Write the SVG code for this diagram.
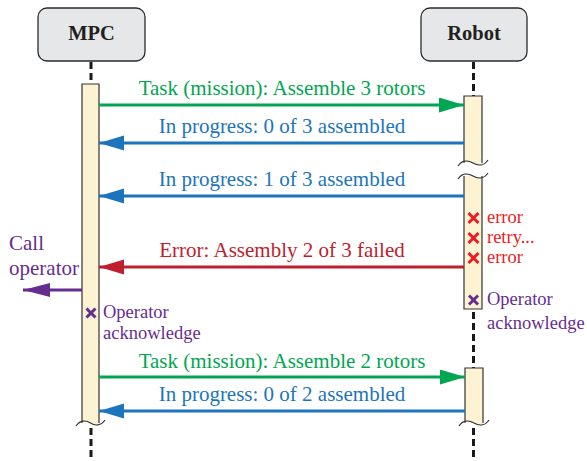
<svg xmlns="http://www.w3.org/2000/svg" width="587" height="461" viewBox="0 0 587 461">
<style>
.actor{fill:#e6e7e9;stroke:#2b2b2b;stroke-width:1.3}
.aname{font-family:"Liberation Serif","Times New Roman",serif;font-weight:bold;font-size:20.5px;fill:#231f20;text-anchor:middle}
.life{stroke:#1a1a1a;stroke-width:3;stroke-dasharray:7 4;fill:none}
.barfill{fill:#fdf2d2;stroke:none}
.baredge{fill:none;stroke:#333;stroke-width:1.2}
.lbl{font-family:"Liberation Serif","Times New Roman",serif;font-size:21px;text-anchor:middle}
.side{font-family:"Liberation Serif","Times New Roman",serif;font-size:18.5px}
.call{font-family:"Liberation Serif","Times New Roman",serif;font-size:21px;fill:#662d91}
.msg{stroke-width:3;fill:none}
.xm{stroke-width:3;fill:none;stroke-linecap:butt}
</style>
<defs>
<marker id="hg" markerUnits="userSpaceOnUse" markerWidth="26" markerHeight="16" refX="25" refY="7.5" orient="auto"><path d="M0,0 L25,7.5 L0,15 Z" fill="#00a651"/></marker>
<marker id="hb" markerUnits="userSpaceOnUse" markerWidth="26" markerHeight="16" refX="25" refY="7.5" orient="auto"><path d="M0,0 L25,7.5 L0,15 Z" fill="#1c75bc"/></marker>
<marker id="hr" markerUnits="userSpaceOnUse" markerWidth="26" markerHeight="16" refX="25" refY="7.5" orient="auto"><path d="M0,0 L25,7.5 L0,15 Z" fill="#be1e2d"/></marker>
<marker id="hp" markerUnits="userSpaceOnUse" markerWidth="28" markerHeight="16" refX="27" refY="7" orient="auto"><path d="M0,0 L27,7 L0,14 Z" fill="#662d91"/></marker>
</defs>

<g id="lifelines">
<line class="life" x1="91" y1="62" x2="91" y2="84"/>
<line class="life" x1="91" y1="428" x2="91" y2="461"/>
<line class="life" x1="473.5" y1="62" x2="473.5" y2="96"/>
<line class="life" x1="473.5" y1="312" x2="473.5" y2="368"/>
<line class="life" x1="473.5" y1="428" x2="473.5" y2="461"/>
</g>

<g id="mpc">
<rect class="actor" x="38" y="8" width="107" height="53" rx="9"/>
<text class="aname" x="91.5" y="40">MPC</text>
</g>
<g id="robot">
<rect class="actor" x="421" y="8" width="106" height="53" rx="9"/>
<text class="aname" x="474" y="40">Robot</text>
</g>

<g id="mpc-bar">
<path class="barfill" d="M82,84 H99 V424 C95,425 93,424 90.5,423 C88,422 85,421.5 82,422 Z"/>
<path class="baredge" d="M82,423 V84 H99 V423"/>
<path class="baredge" d="M76,426 C80,420 86,420 90.5,423 C95,426 101,426 105,420"/>
</g>

<g id="robot-bar-1">
<path class="barfill" d="M464,96 H482 V164 C478,165 476,164 473,163 C470,162 467,161.5 464,162 Z"/>
<path class="baredge" d="M464,163 V96 H482 V163"/>
<path class="baredge" d="M458,166 C462,160 468,160 473,163 C478,166 484,166 488,160"/>
</g>
<g id="robot-bar-2">
<path class="barfill" d="M464,176 C467,175.5 470,176 473,177 C476,178 478,178.5 482,177.5 V309 H464 Z"/>
<path class="baredge" d="M464,176 V309 H482 V176"/>
<path class="baredge" d="M458,179 C462,173 468,173 473,176 C478,179 484,179 488,173"/>
</g>
<g id="robot-bar-3">
<path class="barfill" d="M465,368 H483 V424 C479,425 477,424 474,423 C471,422 468,421.5 465,422 Z"/>
<path class="baredge" d="M465,423 V368 H483 V423"/>
<path class="baredge" d="M459,426 C463,420 469,420 474,423 C479,426 485,426 489,420"/>
</g>

<g id="connectors">
<line class="msg" x1="99" y1="105" x2="464" y2="105" stroke="#00a651" marker-end="url(#hg)"/>
<line class="msg" x1="464" y1="143" x2="99" y2="143" stroke="#1c75bc" marker-end="url(#hb)"/>
<line class="msg" x1="464" y1="196" x2="99" y2="196" stroke="#1c75bc" marker-end="url(#hb)"/>
<line class="msg" x1="464" y1="267" x2="99" y2="267" stroke="#be1e2d" marker-end="url(#hr)"/>
<line class="msg" x1="82" y1="290" x2="23" y2="290" stroke="#662d91" marker-end="url(#hp)"/>
<line class="msg" x1="99" y1="377" x2="465" y2="377" stroke="#00a651" marker-end="url(#hg)"/>
<line class="msg" x1="465" y1="411" x2="99" y2="411" stroke="#1c75bc" marker-end="url(#hb)"/>
</g>

<g id="labels">
<text class="lbl" x="282" y="95" fill="#00a651">Task (mission): Assemble 3 rotors</text>
<text class="lbl" x="282" y="133" fill="#1c75bc">In progress: 0 of 3 assembled</text>
<text class="lbl" x="282" y="186" fill="#1c75bc">In progress: 1 of 3 assembled</text>
<text class="lbl" x="282" y="257" fill="#be1e2d">Error: Assembly 2 of 3 failed</text>
<text class="lbl" x="282" y="368" fill="#00a651">Task (mission): Assemble 2 rotors</text>
<text class="lbl" x="282" y="401" fill="#1c75bc">In progress: 0 of 2 assembled</text>
<text class="call" x="9" y="250">Call</text>
<text class="call" x="9" y="275">operator</text>
</g>

<g id="mpc-ack">
<path class="xm" stroke="#662d91" d="M86.5,308.5 L95.5,317.5 M95.5,308.5 L86.5,317.5"/>
<text class="side" x="103" y="318" fill="#662d91">Operator</text>
<text class="side" x="103" y="339" fill="#662d91">acknowledge</text>
</g>

<g id="robot-events">
<path class="xm" stroke="#ed1c24" d="M468.5,213 L478.5,223 M478.5,213 L468.5,223"/>
<path class="xm" stroke="#ed1c24" d="M468.5,233 L478.5,243 M478.5,233 L468.5,243"/>
<path class="xm" stroke="#ed1c24" d="M468.5,253 L478.5,263 M478.5,253 L468.5,263"/>
<text class="side" x="487" y="223" fill="#ed1c24">error</text>
<text class="side" x="487" y="243" fill="#ed1c24">retry...</text>
<text class="side" x="487" y="263" fill="#ed1c24">error</text>
<path class="xm" stroke="#662d91" d="M469,295.5 L478,304.5 M478,295.5 L469,304.5"/>
<text class="side" x="487" y="305" fill="#662d91">Operator</text>
<text class="side" x="487" y="329" fill="#662d91">acknowledge</text>
</g>
</svg>
